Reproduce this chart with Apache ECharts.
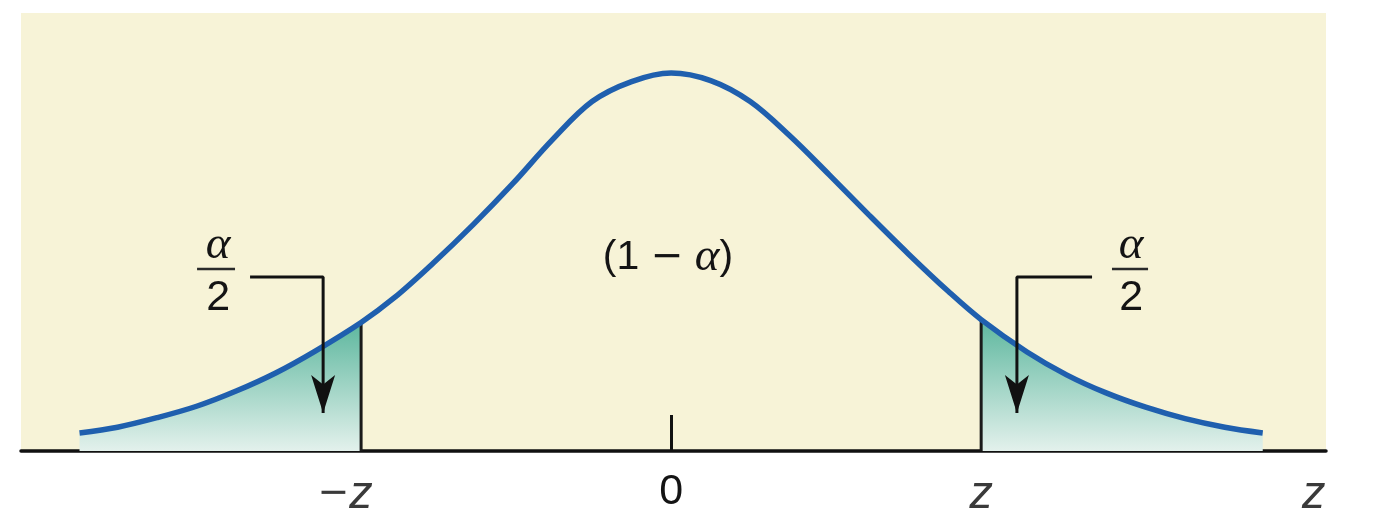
<!DOCTYPE html>
<html>
<head>
<meta charset="utf-8">
<script src="https://cdn.jsdelivr.net/npm/echarts@6/dist/echarts.min.js"></script>
<style>
  html, body { margin: 0; padding: 0; background: #ffffff; }
  #chart { width: 1378px; height: 524px; }
</style>
</head>
<body>
<div id="chart"></div>
<script>
// ---- data ----
const zValues = [-3.74, -3.5, -3.25, -3, -2.75, -2.5, -2.25, -1.96, -1.75, -1.5, -1.25, -1, -0.75, -0.5, -0.25, 0,
                 0.25, 0.5, 0.75, 1, 1.25, 1.5, 1.75, 1.96, 2.25, 2.5, 2.75, 3, 3.25, 3.5, 3.74];
const density = [0.019, 0.025, 0.035, 0.047, 0.063, 0.082, 0.105, 0.135, 0.161, 0.198, 0.238, 0.281, 0.327, 0.367, 0.388, 0.397,
                 0.389, 0.367, 0.331, 0.290, 0.248, 0.207, 0.168, 0.138, 0.104, 0.080, 0.061, 0.046, 0.034, 0.025, 0.019];
const zCrit = 1.96;
const tickValues = [-1.96, 0, 1.96, 4.063];
const tickLabels = ['−z', '0', 'z', 'z'];
const centerLabel = ['(1 ', '−', ' ', 'α', ')'];
const tailLabel = ['α', '2'];

// ---- build series data ----
const curve = zValues.map((z, i) => [z, density[i]]);
const leftTail = curve.filter(p => p[0] <= -zCrit);
const rightTail = curve.filter(p => p[0] >= zCrit);
const critLeftY = density[zValues.indexOf(-zCrit)];
const critRightY = density[zValues.indexOf(zCrit)];

const TXT = '#141414';
const tailGradient = () => new echarts.graphic.LinearGradient(0, 0, 0, 1, [
  { offset: 0, color: '#5db79e' },
  { offset: 1, color: '#e3f1ec' }
]);

function tickFormatter(v) {
  let idx = 0, best = Infinity;
  tickValues.forEach((t, i) => { const d = Math.abs(t - v); if (d < best) { best = d; idx = i; } });
  const s = tickLabels[idx];
  if (s === '−z') return '{m|−}{z|z}{p|}';
  if (s === 'z') return '{z|z}';
  return '{n|' + s + '}';
}

function arrowSeries(pts) {
  const data = pts.map((p, i) => i === pts.length - 1
    ? { value: p, symbol: 'arrow', symbolSize: [18, 38], symbolRotate: 180 }
    : { value: p, symbol: 'none' });
  return {
    type: 'line', data: data, symbol: 'none', showSymbol: true, silent: true,
    lineStyle: { color: '#111', width: 3 }, itemStyle: { color: '#111', opacity: 1 }, z: 5
  };
}

function textSeries(items) {
  return {
    type: 'scatter', symbolSize: 0, silent: true, z: 6,
    itemStyle: { opacity: 1 },
    data: items.map(it => ({
      value: it.pos,
      label: {
        show: true, position: 'inside', formatter: it.text, opacity: 1,
        fontFamily: it.family || 'Liberation Sans', fontStyle: it.italic ? 'italic' : 'normal',
        fontSize: it.size, color: TXT, rich: it.rich
      }
    }))
  };
}

function barSeries(x0, x1, y) {
  return {
    type: 'line', data: [[x0, y], [x1, y]], symbol: 'none', silent: true,
    lineStyle: { color: '#2a2a2a', width: 2.5 }, z: 5
  };
}

const chart = echarts.init(document.getElementById('chart'), null, { renderer: 'canvas' });
chart.setOption({
  animation: false,
  backgroundColor: '#ffffff',
  grid: { left: 21, right: 52, top: 13, bottom: 73, show: true, backgroundColor: '#f7f3d7', borderWidth: 0 },
  xAxis: {
    type: 'value', min: -4.11, max: 4.14,
    axisLine: { show: true, lineStyle: { color: '#111', width: 3.5 } },
    axisTick: { show: true, customValues: [0], inside: true, length: 36, lineStyle: { color: '#111', width: 3 } },
    splitLine: { show: false },
    axisLabel: {
      customValues: tickValues, formatter: tickFormatter, margin: 20,
      rich: {
        m: { fontFamily: 'DejaVu Sans', fontSize: 38, color: '#3a3a3a' },
        z: { fontFamily: 'Liberation Sans', fontStyle: 'italic', fontSize: 47, color: '#3a3a3a' },
        p: { width: 32 },
        n: { fontFamily: 'Liberation Sans', fontSize: 43, color: TXT }
      }
    }
  },
  yAxis: { type: 'value', min: 0, max: 0.46, show: false, splitLine: { show: false } },
  series: [
    { type: 'line', data: leftTail, smooth: 0.35, symbol: 'none', silent: true, lineStyle: { width: 0 }, areaStyle: { color: tailGradient(), opacity: 1 }, z: 1 },
    { type: 'line', data: rightTail, smooth: 0.35, symbol: 'none', silent: true, lineStyle: { width: 0 }, areaStyle: { color: tailGradient(), opacity: 1 }, z: 1 },
    { type: 'line', data: [[-zCrit, 0], [-zCrit, critLeftY]], symbol: 'none', silent: true, lineStyle: { color: '#1a1a1a', width: 3 }, z: 2 },
    { type: 'line', data: [[zCrit, 0], [zCrit, critRightY]], symbol: 'none', silent: true, lineStyle: { color: '#1a1a1a', width: 3 }, z: 2 },
    { type: 'line', data: curve, smooth: 0.35, symbol: 'none', silent: true, lineStyle: { color: '#1f5fae', width: 5.5 }, z: 4 },
    arrowSeries([[-2.662, 0.1827], [-2.200, 0.1827], [-2.200, 0.0399]]),
    arrowSeries([[2.661, 0.1827], [2.186, 0.1827], [2.186, 0.0399]]),
    barSeries(-2.997, -2.757, 0.1911),
    barSeries(2.787, 3.015, 0.1911),
    textSeries([
      { pos: [-0.02, 0.2027], text: centerLabel[0] + '{m|' + centerLabel[1] + '}' + centerLabel[2] + '{a|' + centerLabel[3] + '}' + centerLabel[4], size: 41,
        rich: {
          m: { fontFamily: 'DejaVu Sans', fontSize: 39, color: TXT },
          a: { fontFamily: 'Liberation Serif', fontStyle: 'italic', fontSize: 47, color: TXT }
        } },
      { pos: [-2.864, 0.2153], text: tailLabel[0], size: 47, family: 'Liberation Serif', italic: true },
      { pos: [-2.864, 0.1607], text: tailLabel[1], size: 43 },
      { pos: [2.908, 0.2153], text: tailLabel[0], size: 47, family: 'Liberation Serif', italic: true },
      { pos: [2.908, 0.1607], text: tailLabel[1], size: 43 }
    ])
  ]
});
</script>
</body>
</html>
